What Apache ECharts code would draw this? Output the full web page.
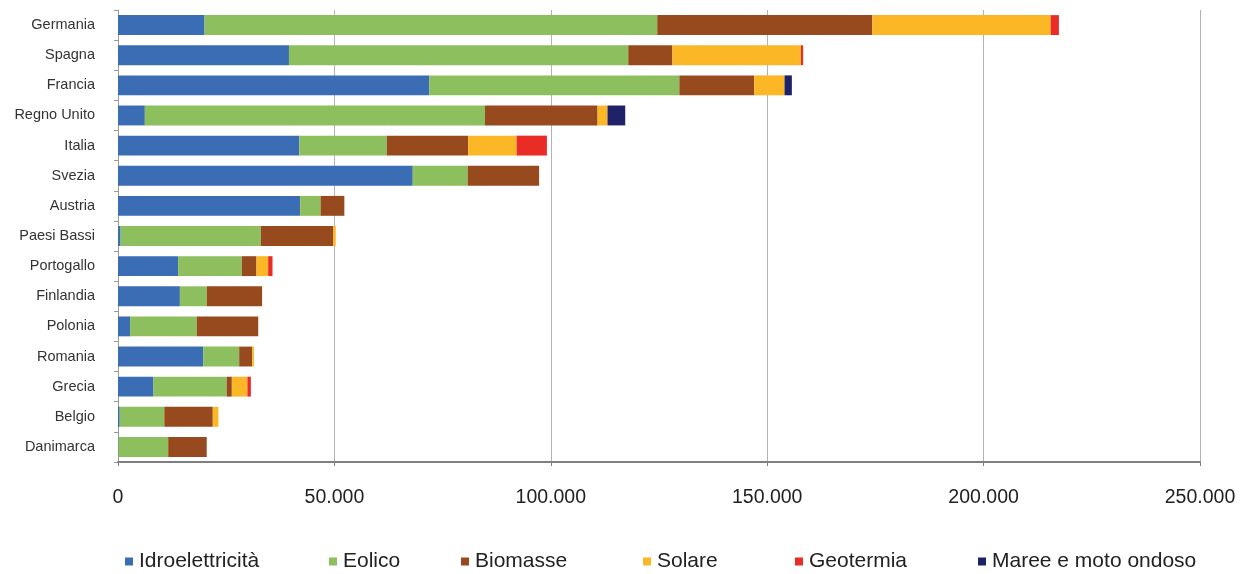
<!DOCTYPE html>
<html>
<head>
<meta charset="utf-8">
<title>Produzione di energia da fonti rinnovabili</title>
<script src="https://cdn.jsdelivr.net/npm/echarts@6/dist/echarts.min.js"></script>
<style>
  html, body { margin: 0; padding: 0; background: #ffffff; }
  #chart { width: 1243px; height: 574px; }
</style>
</head>
<body>
<div id="chart"></div>
<script>
// Paesi, dall'alto verso il basso
const paesi = ['Germania', 'Spagna', 'Francia', 'Regno Unito', 'Italia', 'Svezia', 'Austria',
  'Paesi Bassi', 'Portogallo', 'Finlandia', 'Polonia', 'Romania', 'Grecia', 'Belgio', 'Danimarca'];

// Produzione per fonte (GWh)
const idroelettricita = [20000, 39500, 71900, 6200, 41900, 68100, 42100, 600, 13900, 14300, 2800, 19700, 8200, 400, 100];
const eolico          = [104600, 78400, 57800, 78600, 20200, 12700, 4700, 32400, 14700, 6200, 15400, 8300, 16900, 10300, 11500];
const biomasse        = [49700, 10200, 17300, 26000, 18800, 16500, 5500, 16700, 3400, 12800, 14200, 3000, 1200, 11200, 8900];
const solare          = [41200, 29700, 7000, 2300, 11200, 0, 0, 600, 2700, 0, 0, 400, 3600, 1300, 0];
const geotermia       = [1900, 500, 0, 0, 7000, 0, 0, 0, 1000, 0, 0, 0, 800, 0, 0];
const maree           = [0, 0, 1700, 4100, 0, 0, 0, 0, 0, 0, 0, 0, 0, 0, 0];

const fonti = [
  { name: 'Idroelettricità', data: idroelettricita, color: '#3b6db4' },
  { name: 'Eolico', data: eolico, color: '#8dbf5e' },
  { name: 'Biomasse', data: biomasse, color: '#984a1f' },
  { name: 'Solare', data: solare, color: '#fbb726' },
  { name: 'Geotermia', data: geotermia, color: '#ea2c27' },
  { name: 'Maree e moto ondoso', data: maree, color: '#1f2266' }
];

// Posizione orizzontale di ciascuna voce della legenda
const legendaX = [125, 329, 461, 643, 795, 978];

function formatMigliaia(v) {
  return String(v).replace(/\B(?=(\d{3})+(?!\d))/g, '.');
}

const chart = echarts.init(document.getElementById('chart'), null, { renderer: 'canvas' });

const option = {
  backgroundColor: '#ffffff',
  animation: false,
  textStyle: { fontFamily: 'Liberation Sans, Arial, sans-serif' },
  grid: { left: 118, right: 43, top: 10, bottom: 112, containLabel: false },
  legend: fonti.map((f, i) => ({
    data: [f.name],
    left: legendaX[i],
    top: 551,
    icon: 'rect',
    itemWidth: 8,
    itemHeight: 8,
    itemGap: 0,
    padding: 0,
    textStyle: { fontSize: 21, color: '#222', padding: [0, 0, 0, 1] },
    selectedMode: false
  })),
  xAxis: {
    type: 'value',
    min: 0,
    max: 250000,
    interval: 50000,
    axisLine: { show: true, lineStyle: { color: '#7f7f7f', width: 2 } },
    axisTick: { show: true, length: 4, lineStyle: { color: '#7f7f7f' } },
    axisLabel: {
      margin: 26,
      fontSize: 19.5,
      color: '#222',
      formatter: v => formatMigliaia(v)
    },
    splitLine: { show: true, lineStyle: { color: '#b3b3b3', width: 1 } }
  },
  yAxis: {
    type: 'category',
    data: paesi,
    inverse: true,
    axisLine: { show: true, lineStyle: { color: '#9a9a9a', width: 1 } },
    axisTick: { show: true, length: 4, lineStyle: { color: '#9a9a9a' } },
    axisLabel: { margin: 23, fontSize: 14.5, color: '#333' }
  },
  series: fonti.map(f => ({
    name: f.name,
    type: 'bar',
    stack: 'totale',
    data: f.data,
    barCategoryGap: '34%',
    itemStyle: { color: f.color },
    emphasis: { disabled: true }
  }))
};

chart.setOption(option);
</script>
</body>
</html>
